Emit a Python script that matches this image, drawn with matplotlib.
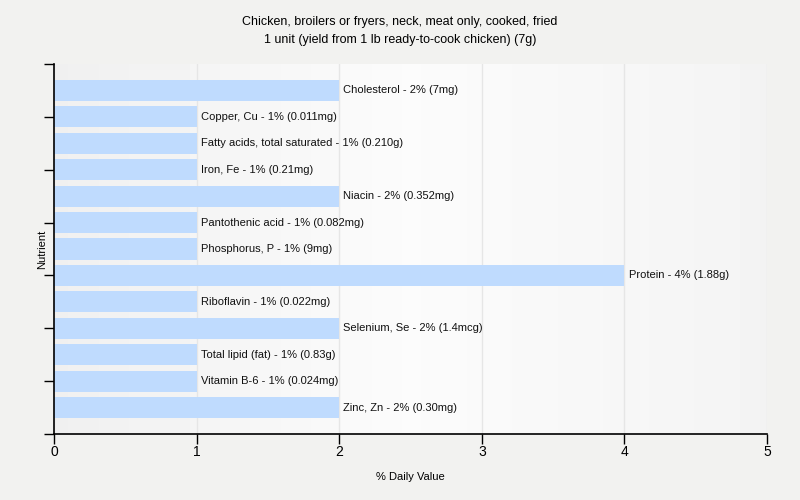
import matplotlib
matplotlib.use('Agg')
import matplotlib.pyplot as plt
import numpy as np

nutrients = ['Cholesterol', 'Copper, Cu', 'Fatty acids, total saturated', 'Iron, Fe',
             'Niacin', 'Pantothenic acid', 'Phosphorus, P', 'Protein', 'Riboflavin',
             'Selenium, Se', 'Total lipid (fat)', 'Vitamin B-6', 'Zinc, Zn']
daily_pct = [2, 1, 1, 1, 2, 1, 1, 4, 1, 2, 1, 1, 2]
amounts = ['7mg', '0.011mg', '0.210g', '0.21mg', '0.352mg', '0.082mg', '9mg',
           '1.88g', '0.022mg', '1.4mcg', '0.83g', '0.024mg', '0.30mg']

title = ('Chicken, broilers or fryers, neck, meat only, cooked, fried\n'
         '1 unit (yield from 1 lb ready-to-cook chicken) (7g)')

plt.rcParams['font.family'] = ['Liberation Sans', 'DejaVu Sans']

fig = plt.figure(figsize=(8, 5), dpi=100, facecolor='#f2f2f0')
ax = fig.add_axes([0.0675, 0.132, 0.89125, 0.74])
ax.set_facecolor('#f4f4f4')

# soft horizontal gradient behind the bars
grad = np.concatenate([np.linspace(0.94, 0.985, 50), np.linspace(0.985, 0.955, 50)])
ax.imshow(np.tile(grad, (2, 1)), cmap='gray', vmin=0, vmax=1, aspect='auto',
          extent=[0, 5, 0, 14], zorder=0, interpolation='bilinear')

n = len(nutrients)
ypos = np.arange(n, 0, -1)
ax.barh(ypos, daily_pct, height=0.8, color='#bfdbfe', zorder=2)

for y, v, name, amt in zip(ypos, daily_pct, nutrients, amounts):
    ax.text(v + 0.03, y, f'{name} - {v}% ({amt})', va='center', ha='left',
            fontsize=8, color='#111111', zorder=3)

ax.set_xlim(0, 5)
ax.set_ylim(0, n + 1)
ax.set_xticks([0, 1, 2, 3, 4, 5])
ax.set_yticks(np.arange(0, n + 2, 2))
ax.set_yticklabels([])
ax.tick_params(axis='both', direction='out', length=7, width=1, color='black')
ax.tick_params(axis='x', labelsize=10, pad=1)
ax.grid(axis='x', color='#e6e6e6', linewidth=1, zorder=1)
ax.set_axisbelow(True)

for side in ['top', 'right']:
    ax.spines[side].set_visible(False)
ax.spines['left'].set_linewidth(1.2)
ax.spines['bottom'].set_linewidth(1.2)

ax.set_xlabel('% Daily Value', fontsize=8)
ax.xaxis.set_label_coords(0.5, -0.103)
ax.set_ylabel('Nutrient', fontsize=8)
ax.yaxis.set_label_coords(-0.009, 0.5)
fig.text(0.5, 1 - 31 / 500, title, ha='center', va='center', fontsize=9, linespacing=1.6)

fig.savefig('out.png', dpi=100, facecolor=fig.get_facecolor())
